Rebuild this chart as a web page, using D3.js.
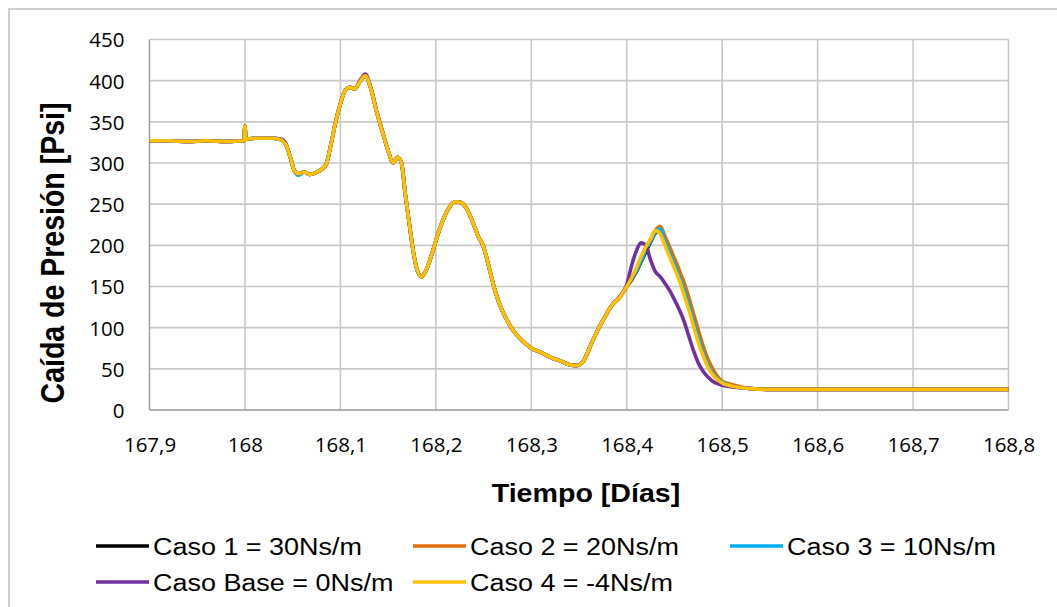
<!DOCTYPE html>
<html>
<head>
<meta charset="utf-8">
<script src="https://cdn.jsdelivr.net/npm/d3@7"></script>
<style>
  html, body { margin: 0; padding: 0; background: #ffffff; }
  svg { display: block; }
</style>
</head>
<body>
<svg id="chart" width="1057" height="607"></svg>
<script>
// Time axis (days) shared by all cases
const time = [
  167.900, 167.920, 167.940, 167.960, 167.980, 167.999, 168.000, 168.001, 168.010, 168.020,
  168.030, 168.038, 168.043, 168.048, 168.052, 168.056, 168.062, 168.068, 168.074, 168.080,
  168.085, 168.090, 168.095, 168.100, 168.105, 168.110, 168.115, 168.120, 168.126, 168.132,
  168.138, 168.144, 168.150, 168.155, 168.160, 168.164, 168.168, 168.172, 168.176, 168.180,
  168.185, 168.190, 168.196, 168.202, 168.208, 168.214, 168.220, 168.226, 168.232, 168.238,
  168.244, 168.250, 168.256, 168.262, 168.268, 168.275, 168.282, 168.290, 168.300, 168.310,
  168.320, 168.330, 168.340, 168.348, 168.355, 168.362, 168.370, 168.378, 168.385, 168.392,
  168.400, 168.405, 168.410, 168.415, 168.420, 168.425, 168.430, 168.435, 168.440, 168.445,
  168.450, 168.455, 168.460, 168.465, 168.470, 168.475, 168.480, 168.485, 168.490, 168.495,
  168.500, 168.510, 168.520, 168.530, 168.550, 168.600, 168.700, 168.800
];

// Pressure drop [Psi] for each damping case
const caso1 = [
  327, 327, 326, 327, 326, 327, 345, 329, 330, 330,
  330, 328, 322, 305, 290, 287, 289, 286, 288, 292,
  298, 322, 350, 372, 388, 392, 390, 398, 406, 390,
  362, 338, 315, 300, 307, 300, 262, 228, 195, 172,
  162, 170, 190, 213, 232, 246, 253, 252, 245, 230,
  212, 198, 172, 145, 125, 108, 95, 85, 75, 70,
  64, 60, 55, 54, 60, 78, 98, 115, 128, 136,
  150, 158, 168, 180, 192, 204, 215, 219, 205, 191,
  177, 162, 146, 128, 108, 88, 70, 55, 45, 38,
  34, 29, 27, 26, 25, 25, 25, 25
];
const caso2 = [
  327, 327, 326, 327, 326, 327, 345, 329, 330, 330,
  330, 328, 322, 305, 290, 287, 289, 286, 288, 292,
  298, 322, 350, 372, 388, 392, 390, 398, 406, 390,
  362, 338, 315, 300, 307, 300, 262, 228, 195, 172,
  162, 170, 190, 213, 232, 246, 253, 252, 245, 230,
  212, 198, 172, 145, 125, 108, 95, 85, 75, 70,
  64, 60, 55, 54, 60, 78, 98, 115, 128, 136,
  150, 160, 170, 183, 196, 207, 218, 223, 211, 198,
  184, 170, 155, 137, 117, 97, 78, 62, 50, 41,
  35, 31, 28, 26, 25, 25, 25, 25
];
const caso3 = [
  327, 327, 326, 327, 326, 327, 345, 329, 330, 330,
  330, 328, 322, 305, 290, 285, 289, 286, 288, 292,
  298, 322, 350, 372, 388, 392, 390, 398, 406, 390,
  362, 338, 315, 300, 307, 300, 262, 228, 195, 172,
  162, 170, 190, 213, 232, 246, 253, 252, 245, 230,
  212, 198, 172, 145, 125, 108, 95, 85, 75, 70,
  64, 60, 55, 54, 60, 78, 98, 115, 128, 136,
  150, 159, 169, 181, 194, 205, 216, 220, 205, 191,
  177, 162, 146, 128, 108, 88, 70, 55, 45, 38,
  34, 29, 27, 26, 25, 25, 25, 25
];
const casoBase = [
  327, 327, 326, 327, 326, 327, 345, 329, 330, 330,
  330, 329, 323, 305, 290, 287, 289, 286, 288, 292,
  298, 322, 350, 372, 388, 392, 390, 399, 408, 391,
  363, 339, 315, 300, 307, 300, 262, 228, 195, 172,
  162, 170, 190, 213, 232, 246, 253, 252, 245, 230,
  212, 198, 172, 145, 125, 108, 95, 85, 75, 70,
  64, 60, 55, 54, 60, 78, 98, 115, 128, 137,
  152, 175, 193, 203, 200, 182, 168, 162, 154, 145,
  134, 122, 108, 90, 72, 57, 47, 40, 35, 32,
  30, 28, 27, 26, 25, 25, 25, 25
];
const caso4 = [
  327, 327, 326, 327, 326, 327, 345, 329, 330, 330,
  330, 328, 322, 305, 290, 287, 289, 286, 288, 292,
  298, 322, 350, 372, 388, 392, 390, 398, 406, 390,
  362, 338, 315, 300, 307, 300, 262, 228, 195, 172,
  162, 170, 190, 213, 232, 246, 253, 252, 245, 230,
  212, 198, 172, 145, 125, 108, 95, 85, 75, 70,
  64, 60, 55, 54, 60, 78, 98, 115, 128, 136,
  150, 160, 172, 186, 198, 208, 218, 214, 200, 186,
  172, 158, 140, 122, 102, 82, 66, 52, 43, 37,
  33, 29, 27, 26, 25, 25, 25, 25
];

const seriesNames = ["Caso 1 = 30Ns/m", "Caso 2 = 20Ns/m", "Caso 3 = 10Ns/m", "Caso Base = 0Ns/m", "Caso 4 = -4Ns/m"];
const seriesColors = ["#000000", "#E46C0A", "#00B0F0", "#7030A0", "#FFC000"];
const seriesValues = [caso1, caso2, caso3, casoBase, caso4];

const xTicks = [167.9, 168.0, 168.1, 168.2, 168.3, 168.4, 168.5, 168.6, 168.7, 168.8];
const xTickLabels = ["167,9", "168", "168,1", "168,2", "168,3", "168,4", "168,5", "168,6", "168,7", "168,8"];
const yTicks = [0, 50, 100, 150, 200, 250, 300, 350, 400, 450];

const xTitle = "Tiempo [Días]";
const yTitle = "Caída de Presión [Psi]";

// ---- layout ----
const plot = { left: 149.5, right: 1008.5, top: 39.5, bottom: 410 };
const svg = d3.select("#chart");

const x = d3.scaleLinear().domain([167.9, 168.8]).range([plot.left, plot.right]);
const y = d3.scaleLinear().domain([0, 450]).range([plot.bottom, plot.top]);

// Outer chart frame
svg.append("rect")
  .attr("x", 9).attr("y", 9).attr("width", 1100).attr("height", 700)
  .attr("fill", "#ffffff").attr("stroke", "#D0D0D0").attr("stroke-width", 2);

// Gridlines
const grid = svg.append("g");
grid.selectAll("line.h").data(yTicks.filter(d => d > 0)).join("line")
  .attr("x1", plot.left).attr("x2", plot.right)
  .attr("y1", d => y(d)).attr("y2", d => y(d))
  .attr("stroke", "#C8C8C8").attr("stroke-width", 1.6);
grid.selectAll("line.v").data(xTicks.slice(1)).join("line")
  .attr("x1", d => x(d)).attr("x2", d => x(d))
  .attr("y1", plot.top).attr("y2", plot.bottom)
  .attr("stroke", "#C8C8C8").attr("stroke-width", 1.6);

// Axis lines
svg.append("line").attr("x1", plot.left).attr("x2", plot.left)
  .attr("y1", plot.top).attr("y2", plot.bottom)
  .attr("stroke", "#9A9A9A").attr("stroke-width", 1.4);
svg.append("line").attr("x1", plot.left).attr("x2", plot.right)
  .attr("y1", plot.bottom).attr("y2", plot.bottom)
  .attr("stroke", "#9A9A9A").attr("stroke-width", 1.4);

// Y axis tick labels
const yAxis = d3.axisLeft(y).tickValues(yTicks).tickSize(0).tickPadding(0).tickFormat(d3.format("d"));
const gy = svg.append("g").attr("transform", `translate(${plot.left - 25},0)`).call(yAxis);
gy.select(".domain").remove();
gy.selectAll("text")
  .attr("font-family", "'Open Sans', sans-serif").attr("font-size", 20.5)
  .attr("fill", "#000").attr("dy", "0.36em");

// X axis tick labels
const xAxis = d3.axisBottom(x).tickValues(xTicks).tickSize(0).tickPadding(0)
  .tickFormat((d, i) => xTickLabels[i]);
const gx = svg.append("g").attr("transform", `translate(0,${plot.bottom})`).call(xAxis);
gx.select(".domain").remove();
gx.selectAll("text")
  .attr("font-family", "'Open Sans', sans-serif").attr("font-size", 20.5)
  .attr("fill", "#000").attr("y", 42).attr("dy", 0);

// Series lines
const line = d3.line()
  .x((d, i) => x(time[i]))
  .y(d => y(d))
  .curve(d3.curveMonotoneX);

svg.append("clipPath").attr("id", "plotClip").append("rect")
  .attr("x", plot.left).attr("y", plot.top - 5)
  .attr("width", plot.right - plot.left).attr("height", plot.bottom - plot.top + 5);

svg.append("g").attr("clip-path", "url(#plotClip)")
  .selectAll("path").data(seriesValues).join("path")
  .attr("d", d => line(d))
  .attr("fill", "none")
  .attr("stroke", (d, i) => seriesColors[i])
  .attr("stroke-width", 3.6)
  .attr("stroke-linejoin", "round")
  .attr("stroke-linecap", "round");

// Axis titles
svg.append("text")
  .attr("transform", "translate(586,502) scale(1.1,1)")
  .attr("text-anchor", "middle")
  .attr("font-family", "'Liberation Sans', Arial, sans-serif")
  .attr("font-weight", "bold").attr("font-size", 26)
  .attr("fill", "#000").text(xTitle);

svg.append("text")
  .attr("transform", "translate(64,253) scale(1.16,1) rotate(-90)")
  .attr("text-anchor", "middle")
  .attr("font-family", "'Liberation Sans', Arial, sans-serif")
  .attr("font-weight", "bold").attr("font-size", 28.5)
  .attr("fill", "#000").text(yTitle);

// Legend
const legendPos = [
  { lx: 96, ly: 546 }, { lx: 413, ly: 546 }, { lx: 730, ly: 546 },
  { lx: 96, ly: 582 }, { lx: 413, ly: 582 }
];
const legend = svg.append("g");
const items = legend.selectAll("g").data(seriesNames).join("g")
  .attr("transform", (d, i) => `translate(${legendPos[i].lx},${legendPos[i].ly})`);
items.append("line")
  .attr("x1", 0).attr("x2", 53).attr("y1", 0).attr("y2", 0)
  .attr("stroke", (d, i) => seriesColors[i]).attr("stroke-width", 3.6);
items.append("text")
  .attr("transform", "translate(57,9) scale(1.1,1)")
  .attr("font-family", "'Liberation Sans', Arial, sans-serif")
  .attr("font-size", 24.5).attr("fill", "#000")
  .text(d => d);
</script>
</body>
</html>
